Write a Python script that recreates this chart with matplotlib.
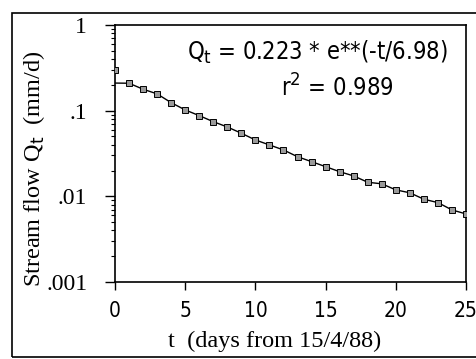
import matplotlib
matplotlib.use("Agg")
import matplotlib.pyplot as plt
import numpy as np
from matplotlib.ticker import FixedLocator, LogLocator, NullFormatter
from matplotlib.patches import Rectangle

# data
days = list(range(0, 26))
flow = [0.298, 0.209, 0.178, 0.157, 0.124, 0.102, 0.0875, 0.0744, 0.0645, 0.0545,
        0.0455, 0.0398, 0.0348, 0.0290, 0.0254, 0.0222, 0.0194, 0.0173, 0.0146, 0.0140,
        0.0119, 0.0110, 0.00925, 0.00845, 0.00694, 0.00623]
# drawn curve: starts at the axis, then runs through the markers
curve_t = list(range(0, 26))
curve_q = [0.210, 0.209, 0.178, 0.157, 0.124, 0.102, 0.0875, 0.0744, 0.0645, 0.0545,
           0.0455, 0.0398, 0.0348, 0.0290, 0.0254, 0.0222, 0.0194, 0.0173, 0.0146, 0.0140,
           0.0119, 0.0110, 0.00925, 0.00845, 0.00694, 0.00623]
xticks = [0, 5, 10, 15, 20, 25]
yticks = [0.001, 0.01, 0.1, 1]
ytick_labels = [".001", ".01", ".1", "1"]

W, H = 476, 359
fig = plt.figure(figsize=(W / 100, H / 100), dpi=100)
ax = fig.add_axes([115 / W, 1 - 282 / H, (466 - 115) / W, (282 - 25) / H])

ax.plot(curve_t, curve_q, color="black", lw=1.0, zorder=2)
ax.plot(days, flow, linestyle="none", marker="s", markersize=5.0,
        markerfacecolor="#9a9a9a", markeredgecolor="black", markeredgewidth=0.7, zorder=3)

ax.set_yscale("log")
ax.set_xlim(0, 25)
ax.set_ylim(0.001, 1)
ax.xaxis.set_major_locator(FixedLocator(xticks))
ax.set_xticklabels([str(v) for v in xticks], family="DejaVu Sans", fontstretch="condensed",
                   fontsize=15)
ax.yaxis.set_major_locator(FixedLocator(yticks))
ax.set_yticklabels(ytick_labels, family=["Liberation Serif", "DejaVu Serif"], fontsize=17)
ax.yaxis.set_minor_locator(LogLocator(base=10, subs=np.arange(2, 10)))
ax.yaxis.set_minor_formatter(NullFormatter())
ax.tick_params(axis="x", which="major", direction="out", length=6, width=1, pad=8)
ax.tick_params(axis="y", which="major", direction="out", length=7, width=1, pad=13)
ax.tick_params(axis="y", which="minor", direction="out", length=3, width=0.8)
for s in ax.spines.values():
    s.set_linewidth(1.2)

ax.text(0.578, 0.895, r"Q$_{\rm t}$ = 0.223 * e**(-t/6.98)", transform=ax.transAxes,
        ha="center", va="center", fontsize=17, family="DejaVu Sans", fontstretch="condensed")
ax.text(0.635, 0.755, r"r$^{2}$ = 0.989", transform=ax.transAxes,
        ha="center", va="center", fontsize=17, family="DejaVu Sans", fontstretch="condensed")

fig.text(34 / W, 1 - 169 / H, r"Stream flow Q$_{\rm t}$  (mm/d)", rotation=90,
         ha="center", va="center", fontsize=17.5, family=["Liberation Serif", "DejaVu Serif"])
fig.text(275 / W, 1 - 341 / H, "t  (days from 15/4/88)", ha="center", va="center",
         fontsize=17.5, family=["Liberation Serif", "DejaVu Serif"])

fig.patches.append(Rectangle((12 / W, 2 / H), (W - 12) / W + 0.01, (H - 15) / H,
                             transform=fig.transFigure, fill=False, edgecolor="black", lw=1.2))

fig.savefig("out.png", dpi=100)
